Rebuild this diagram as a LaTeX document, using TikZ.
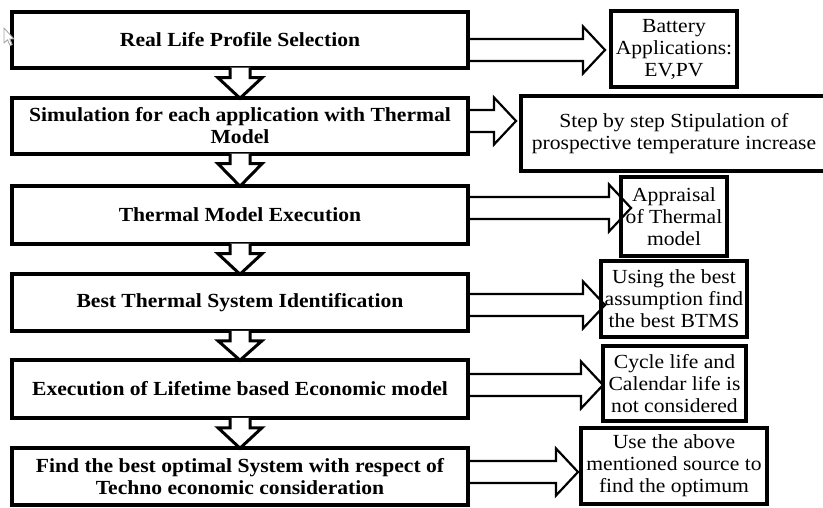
\documentclass[tikz,border=0pt]{standalone}
\usepackage{fontspec}
\setmainfont[FakeStretch=1.08]{Liberation Serif}
\usetikzlibrary{calc}
\tikzset{
  lbox/.style={draw, fill=white, line width=3.5pt, minimum width=456pt, inner sep=0pt,
    align=center, font=\fontsize{20}{22}\selectfont\bfseries},
  rbox/.style={draw, fill=white, line width=4pt, inner sep=0pt,
    align=center, font=\fontsize{20}{22}\selectfont},
  darrow/.style={draw, fill=white, line width=3pt, line join=miter},
  rarrow/.style={draw, line width=2.2pt, line join=miter},
  cursorshape/.style={draw=gray!70, fill=white, line width=0.9pt, line join=round}
}
% down block arrow from #1 to #2
\newcommand\dnarr[2]{%
  \path[darrow] ($(#1.south)+(-10,-2)$) -- ($(#1.south)+(-10,8)$) -- ($(#1.south)+(-22,8)$)
    -- ($(#2.north)+(0,2)$) -- ($(#1.south)+(22,8)$) -- ($(#1.south)+(10,8)$)
    -- ($(#1.south)+(10,-2)$);}
% right block arrow from #1 to #2, tip offset #3 from #2.west, centre line y=#4
\newcommand\rtarr[4]{%
  \path[rarrow] ($(#1.east |- 0,#4)+(0,-11)$) -- ($(#2.west |- 0,#4)+(#3-22,-11)$)
    -- ($(#2.west |- 0,#4)+(#3-22,-23.5)$) -- ($(#2.west |- 0,#4)+(#3,0)$)
    -- ($(#2.west |- 0,#4)+(#3-22,23.5)$) -- ($(#2.west |- 0,#4)+(#3-22,11)$)
    -- ($(#1.east |- 0,#4)+(0,11)$);}
\begin{document}
\begin{tikzpicture}[x=1pt,y=-1pt]
\useasboundingbox[fill=white] (0,0) rectangle (823,508);

% left process boxes
\node[lbox, minimum height=56pt] (b1) at (240,40) {Real Life Profile Selection};
\node[lbox, minimum height=56pt] (b2) at (240,126) {Simulation for each application with Thermal\\Model};
\node[lbox, minimum height=58pt] (b3) at (240,215) {Thermal Model Execution};
\node[lbox, minimum height=57pt] (b4) at (240,302.5) {Best Thermal System Identification};
\node[lbox, minimum height=58pt] (b5) at (240,389) {Execution of Lifetime based Economic model};
\node[lbox, minimum height=57pt] (b6) at (240,476.5) {Find the best optimal System with respect of\\Techno economic consideration};

% right note boxes
\node[rbox, minimum width=126pt, minimum height=76pt] (r1) at (674,49) {Battery\\Applications:\\EV,PV};
\node[rbox, minimum width=306pt, minimum height=75pt] (r2) at (674,133.5) {Step by step Stipulation of\\prospective temperature increase};
\node[rbox, minimum width=106pt, minimum height=79pt] (r3) at (674,216.5) {Appraisal\\of Thermal\\model};
\node[rbox, minimum width=146pt, minimum height=76pt] (r4) at (674,299) {Using the best\\assumption find\\the best BTMS};
\node[rbox, minimum width=143pt, minimum height=75pt] (r5) at (674.5,383.5) {Cycle life and\\Calendar life is\\not considered};
\node[rbox, minimum width=186pt, minimum height=76pt] (r6) at (674,466) {Use the above\\mentioned source to\\find the optimum};

% down arrows
\dnarr{b1}{b2}
\dnarr{b2}{b3}
\dnarr{b3}{b4}
\dnarr{b4}{b5}
\dnarr{b5}{b6}

% right arrows
\rtarr{b1}{r1}{-4}{50}
\rtarr{b2}{r2}{-3}{121}
\rtarr{b3}{r3}{12}{208}
\rtarr{b4}{r4}{6}{305}
\rtarr{b5}{r5}{2}{385}
\rtarr{b6}{r6}{-1}{472}

% mouse cursor
\path[cursorshape] (4,28) -- (4,43) -- (7.5,39.8) -- (10,45.5) -- (12.2,44.6) -- (9.8,39) -- (14,39) -- cycle;
\end{tikzpicture}
\end{document}
